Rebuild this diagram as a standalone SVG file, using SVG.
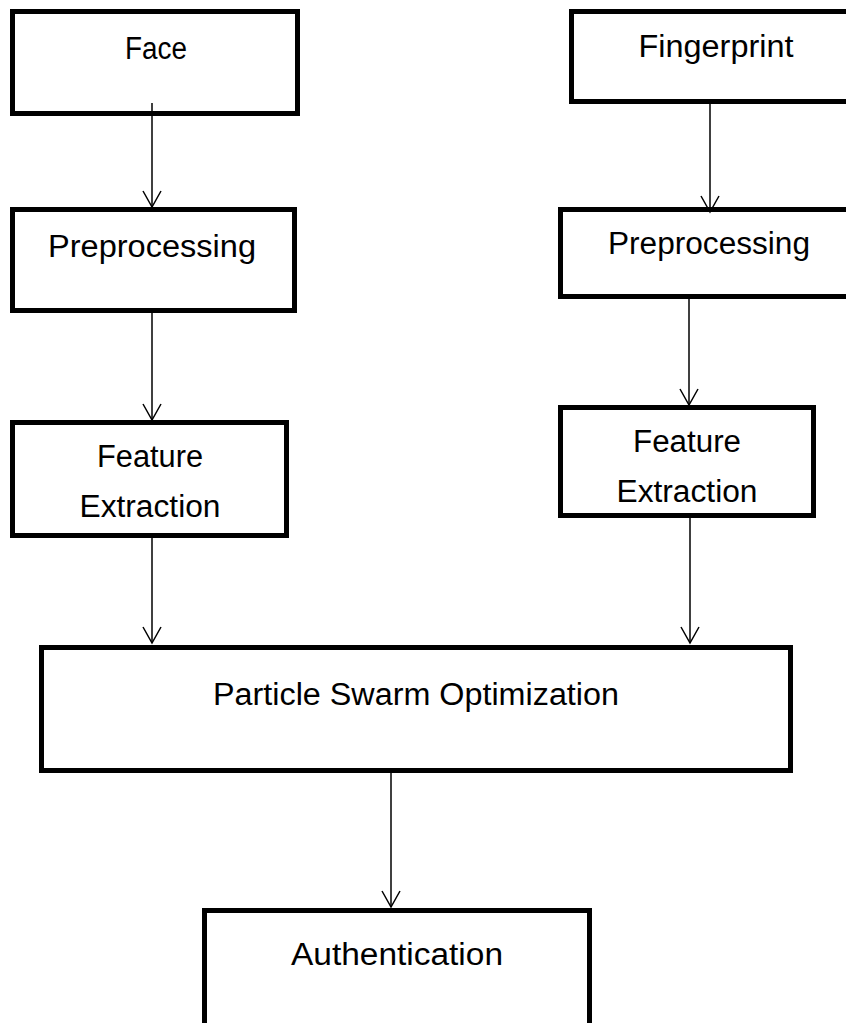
<svg xmlns="http://www.w3.org/2000/svg" width="846" height="1023" viewBox="0 0 846 1023">
<style>
.box{fill:#fff;stroke:#000;stroke-width:5}
.lbl{font-family:"Liberation Sans",Arial,sans-serif;font-size:31px;fill:#000;text-anchor:middle}
.conn{stroke:#000;stroke-width:1.5;fill:none;marker-end:url(#arr)}
</style>
<defs>
<marker id="arr" viewBox="0 0 20 20" refX="18" refY="10" markerWidth="20" markerHeight="20" markerUnits="userSpaceOnUse" orient="auto">
<path d="M2,1 L18,10 L2,19" fill="none" stroke="#000" stroke-width="1.5"/>
</marker>
</defs>
<rect width="846" height="1023" fill="#fff"/>
<g id="face"><rect class="box" x="12.5" y="11.5" width="285" height="102"/><text class="lbl" x="156" y="59" textLength="62" lengthAdjust="spacingAndGlyphs">Face</text></g>
<g id="fingerprint"><rect class="box" x="571.5" y="11.5" width="300" height="90"/><text class="lbl" x="716" y="57" textLength="155" lengthAdjust="spacingAndGlyphs">Fingerprint</text></g>
<g id="pre-left"><rect class="box" x="12.5" y="209.5" width="282" height="101"/><text class="lbl" x="152" y="257" textLength="208" lengthAdjust="spacingAndGlyphs">Preprocessing</text></g>
<g id="pre-right"><rect class="box" x="560.5" y="209.5" width="300" height="87"/><text class="lbl" x="709" y="254" textLength="202" lengthAdjust="spacingAndGlyphs">Preprocessing</text></g>
<g id="fe-left"><rect class="box" x="12.5" y="422.5" width="274" height="113"/><text class="lbl" x="150" y="467" textLength="106" lengthAdjust="spacingAndGlyphs">Feature</text><text class="lbl" x="150" y="517" textLength="141" lengthAdjust="spacingAndGlyphs">Extraction</text></g>
<g id="fe-right"><rect class="box" x="560.5" y="407.5" width="253" height="108"/><text class="lbl" x="687" y="452" textLength="108" lengthAdjust="spacingAndGlyphs">Feature</text><text class="lbl" x="687" y="502" textLength="141" lengthAdjust="spacingAndGlyphs">Extraction</text></g>
<g id="pso"><rect class="box" x="41.5" y="647.5" width="749" height="123"/><text class="lbl" x="416" y="705" textLength="406" lengthAdjust="spacingAndGlyphs">Particle Swarm Optimization</text></g>
<g id="auth"><rect class="box" x="204.5" y="910.5" width="385" height="200"/><text class="lbl" x="397" y="965" textLength="212" lengthAdjust="spacingAndGlyphs">Authentication</text></g>
<g id="connectors">
<line class="conn" x1="152" y1="103" x2="152" y2="207"/>
<line class="conn" x1="710" y1="104" x2="710" y2="212"/>
<line class="conn" x1="152" y1="313" x2="152" y2="420"/>
<line class="conn" x1="689" y1="299" x2="689" y2="405"/>
<line class="conn" x1="152" y1="538" x2="152" y2="643"/>
<line class="conn" x1="690" y1="518" x2="690" y2="643"/>
<line class="conn" x1="391" y1="773" x2="391" y2="907"/>
</g>
</svg>
